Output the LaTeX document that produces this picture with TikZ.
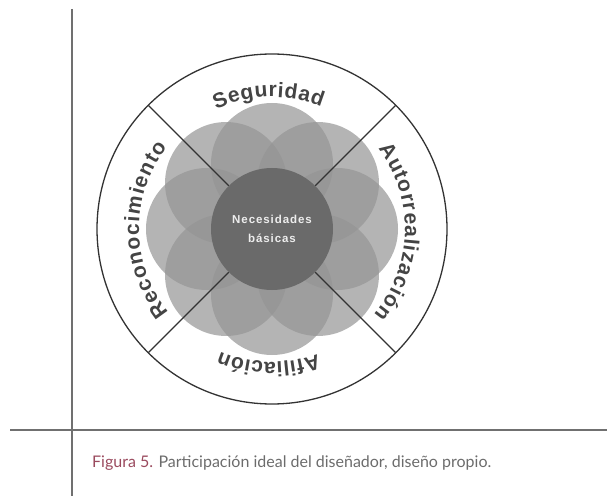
\documentclass[tikz,border=0pt]{standalone}
\usepackage{fontspec}
\setmainfont{Lato}
\newfontfamily\ringfont{Liberation Sans}
\newfontfamily\corefont[LetterSpace=8]{Liberation Sans}
\usetikzlibrary{decorations.text, calc}

\definecolor{petalgray}{HTML}{949494}
\definecolor{coregray}{HTML}{6A6A6A}
\definecolor{inkgray}{HTML}{444444}
\definecolor{rulegray}{HTML}{707070}
\definecolor{figred}{HTML}{9A4A5E}
\definecolor{captgray}{HTML}{6C6C6C}

\newcommand{\ringstyle}{\ringfont\bfseries\fontsize{21}{21}\selectfont}

\tikzset{
  petal/.style={fill=petalgray, fill opacity=0.7},
  rim/.style={draw=black!80, line width=1.3pt},
  rule/.style={draw=rulegray, line width=1.3pt},
  ringtext/.style={decorate, decoration={text along path, text align={fit to path},
      text color=inkgray, text={|\ringstyle|#1}}}
}

\begin{document}
\begin{tikzpicture}[x=1pt, y=1pt]
\useasboundingbox (0,0) rectangle (607,496);
\coordinate (c) at (272,267);

% page rules
\draw[rule] (72,487) -- (72,0);
\draw[rule] (10,66) -- (607,66);

% eight petals around the core
\foreach \a in {0,45,...,315} {
    \fill[petal] (c) ++(\a:65pt) circle[radius=61pt];
}

% outer ring and dividers
\draw[rim] (c) circle[radius=175pt];
\foreach \a in {45,135,225,315} {
    \draw[rim] ($(c)+(\a:175pt)$) -- ($(c)+(\a:61pt)$);
}

% core
\fill[coregray] (c) circle[radius=61pt];
\node[text=white!93!black, font=\corefont\bfseries\fontsize{11.5}{19}\selectfont, align=center]
    (core) at (c) {Necesidades\\básicas};

% labels on the ring (clockwise)
\path[ringtext=Seguridad] (c) ++(115:132pt) arc[start angle=115, end angle=68, radius=132pt];
\path[ringtext=Autorrealización] (c) ++(37:133pt) arc[start angle=37, end angle=-40, radius=133pt];
\path[ringtext=Afiliación] (c) ++(-70:133pt) arc[start angle=-70, end angle=-113, radius=133pt];
\path[ringtext=Reconocimiento] (c) ++(219:133pt) arc[start angle=219, end angle=142, radius=133pt];

% caption
\node[anchor=base west, inner sep=0pt, font=\fontsize{16}{19}\selectfont] (capt) at (92,29)
    {\textcolor{figred}{Figura 5.} \textcolor{captgray}{Participación ideal del diseñador, diseño propio.}};
\end{tikzpicture}
\end{document}
